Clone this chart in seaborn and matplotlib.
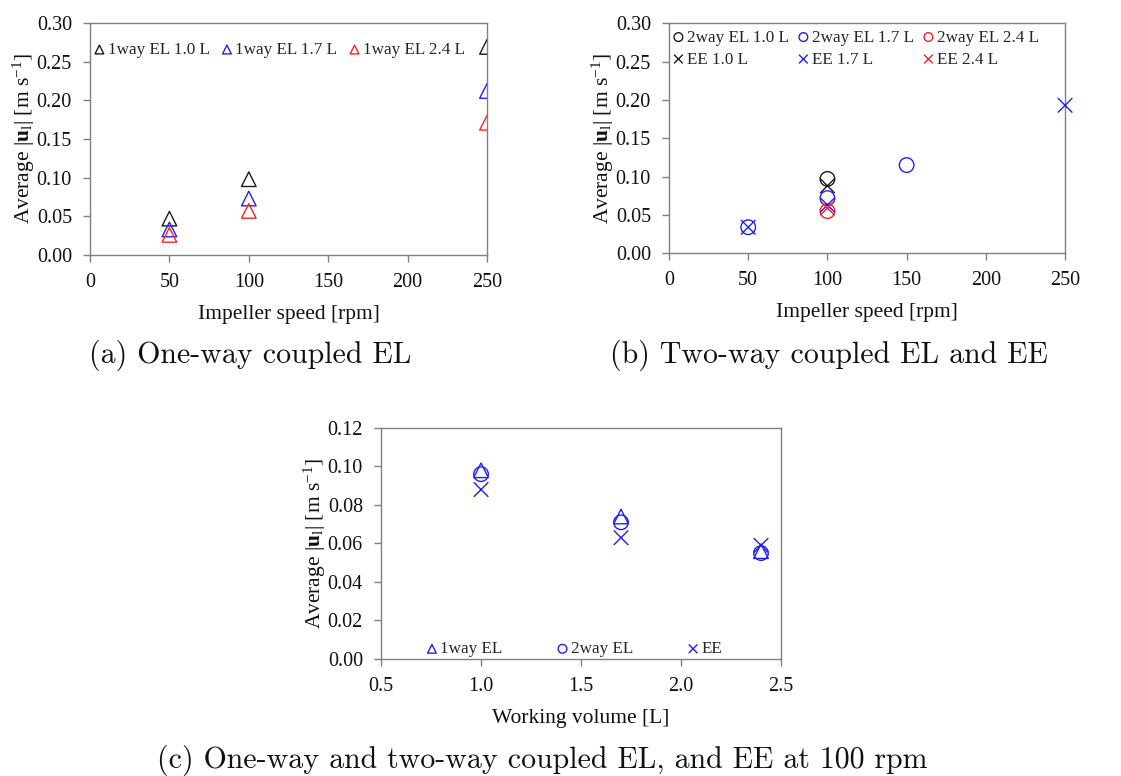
import numpy as np
import pandas as pd
import matplotlib
matplotlib.use("Agg")
import matplotlib.pyplot as plt
import seaborn as sns

# ---------------- data ----------------
speeds_1way = [50, 100, 250]
oneway_10 = [0.047, 0.098, 0.269]
oneway_17 = [0.033, 0.073, 0.212]
oneway_24 = [0.026, 0.057, 0.171]

twoway_10_x = [100]
twoway_10 = [0.097]
twoway_17_x = [50, 100, 150]
twoway_17 = [0.034, 0.072, 0.115]
twoway_24_x = [100]
twoway_24 = [0.055]

ee_10_x = [100]
ee_10 = [0.088]
ee_17_x = [50, 100, 250]
ee_17 = [0.034, 0.063, 0.193]
ee_24_x = [100]
ee_24 = [0.059]

volumes = [1.0, 1.7, 2.4]
vol_1way = [0.098, 0.074, 0.056]
vol_2way = [0.096, 0.071, 0.055]
vol_ee = [0.088, 0.063, 0.059]

# ---------------- style ----------------
sns.set_theme(style="white")
plt.rcParams["font.family"] = ["Liberation Serif", "DejaVu Serif"]
plt.rcParams["mathtext.fontset"] = "custom"
plt.rcParams["mathtext.rm"] = "Liberation Serif"
plt.rcParams["mathtext.it"] = "Liberation Serif:italic"
plt.rcParams["mathtext.bf"] = "Liberation Serif:bold"

BLACK = "#1a1a1a"
BLUE = "#1f1fff"
RED = "#ff2020"
SPINE = "#808080"
TICK_FS = 14.5
LAB_FS = 15.5
LEG_FS = 12.3
MS = 110

ylabel = r"Average $|\mathbf{u}_\mathrm{l}|$ [m s$^{\mathrm{-1}}$]"

fig = plt.figure(figsize=(11.21, 7.76), dpi=100)
ax_a = fig.add_axes([0.0803, 0.6714, 0.3541, 0.2990])
ax_b = fig.add_axes([0.5968, 0.6736, 0.3533, 0.2964])
ax_c = fig.add_axes([0.3399, 0.1508, 0.3568, 0.2977])


def hollow(ax, x, y, marker, color, label):
    sns.scatterplot(x=x, y=y, ax=ax, marker=marker, s=MS, color=color,
                    label=label, linewidth=1.0, legend=False, zorder=3)
    coll = ax.collections[-1]
    coll.set_facecolor("none")
    coll.set_edgecolor(color)
    coll.set_linewidth(1.0)
    coll.set_label(label)
    return coll


def style_axes(ax, xlim, ylim, xticks, yticks, xfmt, yfmt, xlabel):
    ax.set_xlim(*xlim)
    ax.set_ylim(*ylim)
    ax.set_xticks(xticks)
    ax.set_yticks(yticks)
    ax.set_xticklabels([xfmt.format(v) for v in xticks], fontsize=TICK_FS)
    ax.set_yticklabels([yfmt.format(v) for v in yticks], fontsize=TICK_FS)
    ax.tick_params(axis="both", direction="out", length=5, width=1,
                   color=SPINE, pad=8, bottom=True, left=True,
                   top=False, right=False, labelcolor="#111111")
    for sp in ax.spines.values():
        sp.set_color(SPINE)
        sp.set_linewidth(1.0)
    ax.set_xlabel(xlabel, fontsize=LAB_FS, labelpad=9, color="#111111")
    ax.set_ylabel(ylabel, fontsize=LAB_FS, labelpad=0, color="#111111")
    ax.grid(False)


# ---- panel (a)
ha = []
ha.append(hollow(ax_a, speeds_1way, oneway_10, "^", BLACK, "1way EL 1.0 L"))
ha.append(hollow(ax_a, speeds_1way, oneway_17, "^", BLUE, "1way EL 1.7 L"))
ha.append(hollow(ax_a, speeds_1way, oneway_24, "^", RED, "1way EL 2.4 L"))
style_axes(ax_a, (0, 250), (0, 0.30), [0, 50, 100, 150, 200, 250],
           np.round(np.arange(0, 0.301, 0.05), 2), "{:d}", "{:.2f}",
           "Impeller speed [rpm]")
ax_a.legend(handles=ha, loc="upper left", bbox_to_anchor=(0.0, 0.94),
            ncol=3, frameon=False, fontsize=LEG_FS, markerscale=0.6,
            handlelength=0.5, handletextpad=0.25, columnspacing=0.75,
            borderaxespad=0.2, borderpad=0.1)

# ---- panel (b)
c2_10 = hollow(ax_b, twoway_10_x, twoway_10, "o", BLACK, "2way EL 1.0 L")
c2_17 = hollow(ax_b, twoway_17_x, twoway_17, "o", BLUE, "2way EL 1.7 L")
c2_24 = hollow(ax_b, twoway_24_x, twoway_24, "o", RED, "2way EL 2.4 L")
ce_10 = hollow(ax_b, ee_10_x, ee_10, "x", BLACK, "EE 1.0 L")
ce_17 = hollow(ax_b, ee_17_x, ee_17, "x", BLUE, "EE 1.7 L")
ce_24 = hollow(ax_b, ee_24_x, ee_24, "x", RED, "EE 2.4 L")
style_axes(ax_b, (0, 250), (0, 0.30), [0, 50, 100, 150, 200, 250],
           np.round(np.arange(0, 0.301, 0.05), 2), "{:d}", "{:.2f}",
           "Impeller speed [rpm]")
for c in ax_b.collections:
    c.set_clip_on(False)
ax_b.legend(handles=[c2_10, ce_10, c2_17, ce_17, c2_24, ce_24],
            loc="upper left", bbox_to_anchor=(0.0, 0.995),
            ncol=3, frameon=False, fontsize=LEG_FS, markerscale=0.6,
            handlelength=0.5, handletextpad=0.25, columnspacing=0.6,
            labelspacing=0.35, borderaxespad=0.2, borderpad=0.1)

# ---- panel (c)
hc = []
hc.append(hollow(ax_c, volumes, vol_1way, "^", BLUE, "1way EL"))
hc.append(hollow(ax_c, volumes, vol_2way, "o", BLUE, "2way EL"))
hc.append(hollow(ax_c, volumes, vol_ee, "x", BLUE, "EE"))
style_axes(ax_c, (0.5, 2.5), (0, 0.12), [0.5, 1.0, 1.5, 2.0, 2.5],
           np.round(np.arange(0, 0.121, 0.02), 2), "{:.1f}", "{:.2f}",
           "Working volume [L]")
ax_c.legend(handles=hc, loc="lower center", bbox_to_anchor=(0.485, 0.0),
            ncol=3, frameon=False, fontsize=LEG_FS, markerscale=0.6,
            handlelength=0.5, handletextpad=0.25, columnspacing=3.25,
            borderaxespad=0.0, borderpad=0.1)

# ---- captions
cap_kw = dict(fontsize=21.5, family="cmr10", ha="center", va="center",
              color="#111111")
fig.text(250 / 1121, 1 - 355 / 776, "(a) One-way coupled EL", **cap_kw)
fig.text(829 / 1121, 1 - 355 / 776, "(b) Two-way coupled EL and EE", **cap_kw)
fig.text(542 / 1121, 1 - 760 / 776,
         "(c) One-way and two-way coupled EL, and EE at 100 rpm", **cap_kw)

fig.savefig("out.png", dpi=100)
